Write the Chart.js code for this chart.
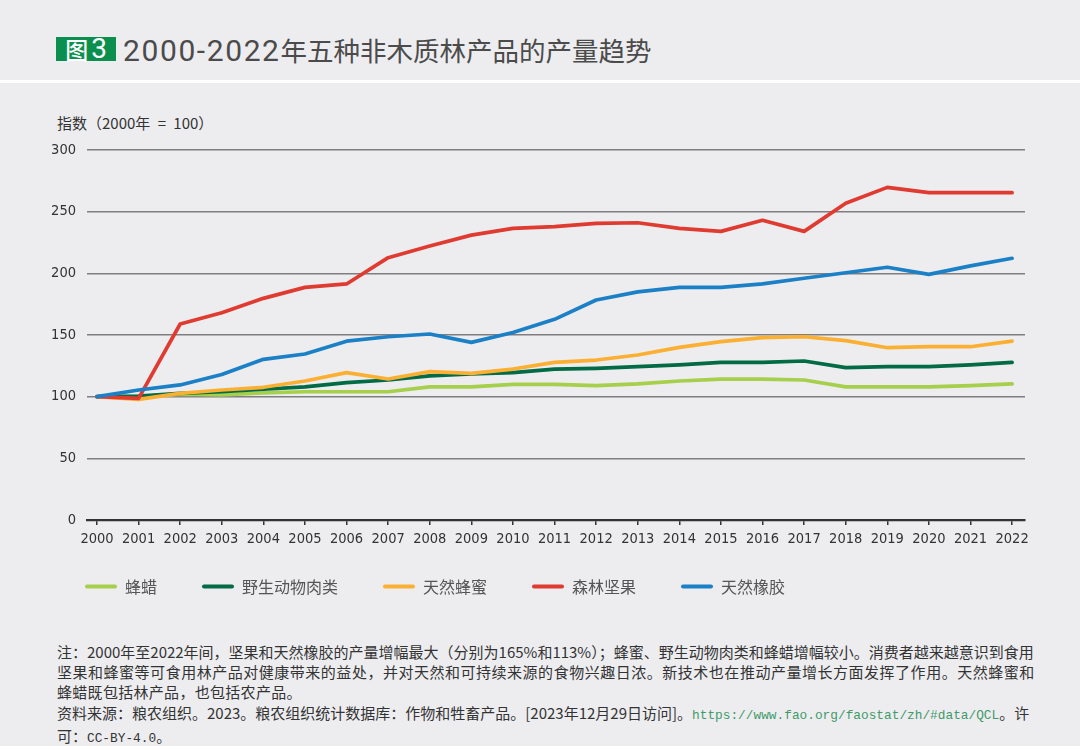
<!DOCTYPE html>
<html>
<head>
<meta charset="utf-8">
<script src="https://cdn.jsdelivr.net/npm/chart.js@4.4.1/dist/chart.umd.min.js"></script>
<style>
  html, body { margin: 0; padding: 0; }
  body { width: 1080px; height: 750px; background: #ededf0; position: relative; overflow: hidden;
         font-family: "Noto Sans CJK SC", "Noto Sans", sans-serif; }
  #header { position: absolute; left: 0; top: 0; width: 1080px; height: 80px; background: #ededf0;
            border-bottom: 3px solid #ffffff; }
  #badge { position: absolute; left: 56px; top: 37px; width: 60px; height: 24px; background: #0b8f4e;
           color: #fff; display: flex; align-items: center; justify-content: center; }
  #badge .c { font-size: 23px; line-height: 24px; font-weight: 500; }
  #badge .n { font-family: Roboto, "Noto Sans", sans-serif; font-size: 28px; line-height: 24px; margin-left: 3px; }
  #title { position: absolute; left: 123px; top: 31px; height: 38px; line-height: 38px; font-size: 26.5px;
           color: #4b4b4b; white-space: nowrap; }
  #title .d { font-family: Roboto, "Noto Sans", sans-serif; font-size: 30px; letter-spacing: 1.6px; }
  #yunit { position: absolute; left: 57px; top: 113px; font-size: 15px; line-height: 20px; color: #333;
           white-space: nowrap; word-spacing: 4px; }
  #chartwrap { position: absolute; left: 40px; top: 140px; width: 1000px; height: 476px; }
  #chartwrap canvas { display: block; }
  #note { position: absolute; left: 57px; top: 642px; font-size: 15px; line-height: 20.2px; color: #333;
          white-space: nowrap; }
  #note .l2 { letter-spacing: 0.52px; }
  #note .l3 { letter-spacing: 0.3px; }
  #note .m { font-family: "Liberation Mono", "DejaVu Sans Mono", monospace; font-size: 12.8px; letter-spacing: 0; }
  #note .u { color: #3f9a68; }
  #footline { position: absolute; left: 0; top: 746px; width: 1080px; height: 4px; background: #ffffff; }
</style>
</head>
<body>
<div id="header">
  <div id="badge"><span class="c">图</span><span class="n">3</span></div>
  <div id="title"><span class="d">2000-2022</span>年五种非木质林产品的产量趋势</div>
</div>
<div id="yunit">指数（2000年 = 100）</div>
<div id="chartwrap"><canvas id="chart" width="1000" height="476"></canvas></div>
<div id="note">
  <div>注：2000年至2022年间，坚果和天然橡胶的产量增幅最大（分别为165%和113%）；蜂蜜、野生动物肉类和蜂蜡增幅较小。消费者越来越意识到食用</div>
  <div class="l2">坚果和蜂蜜等可食用林产品对健康带来的益处，并对天然和可持续来源的食物兴趣日浓。新技术也在推动产量增长方面发挥了作用。天然蜂蜜和</div>
  <div class="l3">蜂蜡既包括林产品，也包括农产品。</div>
  <div>资料来源：粮农组织。2023。粮农组织统计数据库：作物和牲畜产品。[2023年12月29日访问]。<span class="m u">https://www.fao.org/faostat/zh/#data/QCL</span>。许</div>
  <div>可：<span class="m">CC-BY-4.0</span>。</div>
</div>
<div id="footline"></div>
<script>
// ---- data ----
const years = [2000, 2001, 2002, 2003, 2004, 2005, 2006, 2007, 2008, 2009, 2010, 2011,
               2012, 2013, 2014, 2015, 2016, 2017, 2018, 2019, 2020, 2021, 2022];
const yTicks = [0, 50, 100, 150, 200, 250, 300];
const seriesNames = ['蜂蜡', '野生动物肉类', '天然蜂蜜', '森林坚果', '天然橡胶'];
const beeswax  = [100, 100, 102, 101.5, 103, 104, 104, 104, 108, 108, 110, 110,
                  109, 110.3, 112.7, 114.3, 114.3, 113.5, 108, 108, 108, 109, 110.3];
const wildMeat = [100, 100.5, 102.7, 104, 106, 108, 111.4, 113.5, 116.8, 118.4, 119.5, 122.4,
                  123, 124.3, 125.7, 127.8, 127.8, 128.9, 123.5, 124.3, 124.3, 125.7, 127.8];
const honey    = [100, 97.8, 102.7, 105.4, 107.6, 112.7, 119.5, 114.3, 120.3, 118.9, 122.4, 127.8,
                  129.7, 133.8, 140, 144.6, 147.8, 148.6, 145.4, 139.7, 140.5, 140.5, 145.1];
const nuts     = [100, 98.6, 158.9, 168, 179.7, 188.6, 191.4, 212.7, 222.2, 231, 236.5, 237.8,
                  240.5, 241, 236.5, 234, 243, 234, 256.8, 269.7, 265.4, 265.4, 265.4];
const rubber   = [100, 105.4, 109.5, 118, 130.3, 134.6, 145, 148.6, 150.8, 144, 152, 162.7,
                  178.4, 185, 188.6, 188.6, 191.4, 196, 200.5, 204.9, 199.2, 206, 212.2];

const seriesValues = [beeswax, wildMeat, honey, nuts, rubber];
const colors = ['#a6cf4b', '#006b45', '#fbb034', '#e03b31', '#1b80c5'];
const drawOrder = [5, 4, 3, 2, 1];

const tickFont = { family: "'Liberation Sans Narrow', 'DejaVu Sans Condensed', Roboto, sans-serif", size: 14.5 };

const datasets = seriesValues.map((vals, i) => ({
  label: seriesNames[i],
  data: vals.map((v, k) => ({ x: years[k], y: v })),
  borderColor: colors[i],
  backgroundColor: colors[i],
  borderWidth: 3.7,
  pointRadius: 0,
  tension: 0,
  borderCapStyle: 'round',
  borderJoinStyle: 'round',
  order: drawOrder[i]
}));

// keeps the legend a fixed height and places its row just under the axis labels
const legendPlacement = {
  id: 'legendPlacement',
  beforeLayout(chart) {
    const lg = chart.legend;
    if (lg && !lg.__wrapped) {
      const fit = lg.fit;
      lg.fit = function () { fit.call(this); this.height = 64; };
      lg.__wrapped = true;
    }
  },
  afterLayout(chart) {
    const lg = chart.legend;
    if (!lg) return;
    const dy = chart.chartArea.bottom + 13.5 - lg.top;
    lg.top += dy;
    lg.bottom += dy;
  }
};

new Chart(document.getElementById('chart').getContext('2d'), {
  type: 'line',
  data: { datasets },
  plugins: [legendPlacement],
  options: {
    responsive: false,
    animation: false,
    events: [],
    layout: { padding: { top: 10, right: 15, left: 0, bottom: 0 } },
    scales: {
      x: {
        type: 'linear',
        min: 1999.76,
        max: 2022.31,
        afterBuildTicks: s => { s.ticks = years.map(v => ({ value: v })); },
        afterFit: s => { s.height = 32; s.paddingLeft = 0; s.paddingRight = 0; },
        ticks: { callback: v => String(v), font: tickFont, color: '#333', padding: 6,
                 maxRotation: 0, autoSkip: false },
        grid: { drawOnChartArea: false, drawTicks: true, tickLength: 5, color: '#333', lineWidth: 1.5 },
        border: { display: true, color: '#333', width: 2.2 }
      },
      y: {
        min: 0,
        max: 300,
        afterBuildTicks: s => { s.ticks = yTicks.map(v => ({ value: v })); },
        afterFit: s => { s.width = 47; s.paddingTop = 0; s.paddingBottom = 0; },
        ticks: { font: tickFont, color: '#333', padding: 11 },
        grid: { drawTicks: false, color: '#7f7f7f', lineWidth: 1.4 },
        border: { display: false }
      }
    },
    plugins: {
      tooltip: { enabled: false },
      legend: {
        position: 'bottom',
        align: 'start',
        labels: {
          boxWidth: 32,
          boxHeight: 4,
          padding: 45,
          color: '#555',
          font: { family: "'Noto Sans CJK SC', sans-serif", size: 16 },
          useBorderRadius: true,
          borderRadius: 2,
          sort: (a, b) => a.datasetIndex - b.datasetIndex,
          generateLabels: chart => Chart.defaults.plugins.legend.labels.generateLabels(chart)
            .map(l => Object.assign({}, l, { lineWidth: 0, fillStyle: l.strokeStyle }))
        }
      }
    }
  }
});
</script>
</body>
</html>
